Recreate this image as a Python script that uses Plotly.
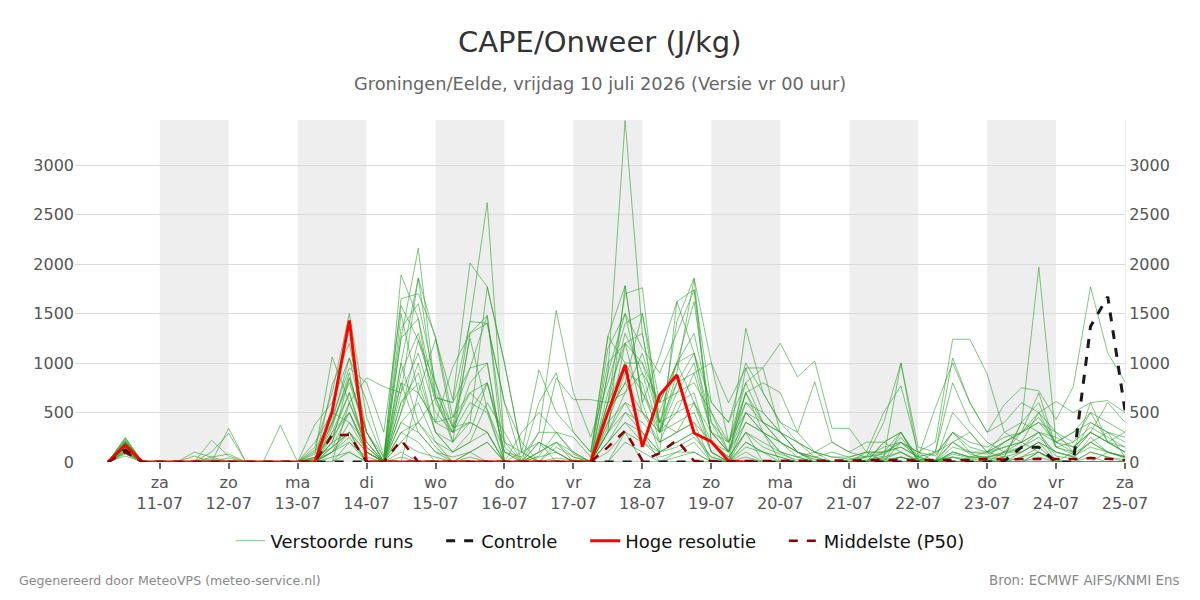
import pandas as pd
import plotly.graph_objects as go

# ---------------- data ----------------
times = pd.date_range("2026-07-10 06:00", periods=60, freq="6h")

tick_dates = pd.date_range("2026-07-11", "2026-07-25", freq="D")
tick_days = ["za", "zo", "ma", "di", "wo", "do", "vr", "za", "zo", "ma", "di", "wo", "do", "vr", "za"]

shade_starts = ["2026-07-11", "2026-07-13", "2026-07-15", "2026-07-17", "2026-07-19", "2026-07-21", "2026-07-23"]

# perturbed members (6-hourly, 10-07 06:00 .. 25-07 00:00)
m01 = [0,250,0, 0,0,0,0,0,0,0,0, 0,150,700,1500,450,30,1250,2160, 700,350,1420,2620,150,0,60,300,80, 0,350,1200,500,300,900,1850,200,50, 300,150,80,20,0,10, 0,20,60,250,30,20,200,80, 40,100,150,300,60,30,250,100,40]
m02 = [0,200,0, 0,0,0,220,60,0,0,0, 0,80,1060,600,850,760,700,1860, 1240,630,2010,1770,1000,100,0,40,20, 0,900,3450,1300,400,1000,600,200,100, 500,300,200,100,30,0, 0,10,40,1000,50,10,500,300, 100,50,400,1970,200,100,300,200,100]
m03 = [0,180,0, 0,0,0,0,340,0,0,370, 0,0,780,1200,300,0,1890,1450, 400,960,1300,1480,200,100,930,500,300, 100,1270,1780,600,1070,1620,1100,300,100, 1350,700,400,200,50,0, 0,0,100,300,20,0,100,50, 50,200,300,700,150,100,600,200,100]
m04 = [0,150,0, 0,0,0,100,290,0,0,0, 0,380,600,1050,620,60,1650,1700, 1270,450,950,1000,0,0,100,850,630, 630,600,1700,1760,300,1420,1860,1000,600, 950,500,300,100,20,0, 20,50,80,200,30,20,50,30, 30,50,400,600,150,80,200,300,50]
m05 = [0,220,0, 0,0,0,0,0,0,0,0, 0,120,450,950,800,300,1580,1230, 650,600,1420,1400,600,200,0,150,50, 0,1150,1500,1150,900,1300,1740,600,400, 800,950,1200,860,1020,340, 340,100,500,770,100,200,1240,1240, 890,300,200,100,20,0,100,50,20]
m06 = [0,120,0, 0,0,0,50,80,0,0,0, 0,40,380,850,300,50,1350,1600, 800,350,700,800,100,50,300,1530,700, 250,800,1400,1500,600,1000,1620,400,200, 700,800,700,300,810,200, 100,50,400,1000,150,100,1050,600, 300,580,750,720,430,760,1770,1100,810]
m07 = [0,100,0, 0,0,0,0,40,0,0,0, 0,0,300,700,150,0,1500,700, 400,300,1250,530,0,0,600,900,300, 100,1000,1200,1000,400,800,900,1000,200, 500,300,0,0,0,0, 0,0,0,50,0,0,0,20, 20,0,50,150,0,0,50,0,0]
m08 = [0,230,0, 0,0,0,0,0,0,0,0, 0,0,200,600,150,0,1000,400, 650,200,400,300,0,0,0,0,0, 0,600,1000,700,300,500,600,100,0, 200,100,50,0,0,0, 0,0,20,50,0,0,0,0, 0,0,100,200,0,0,100,50,0]
m09 = [0,160,0, 0,0,0,0,0,0,0,0, 0,200,500,400,100,0,800,300, 100,0,50,0,0,0,0,0,0, 0,500,800,500,200,300,400,0,0, 100,0,0,0,0,0, 0,0,0,0,0,0,0,0, 0,0,0,50,0,0,0,0,0]
m10 = [0,140,0, 0,0,0,30,0,0,0,0, 0,50,250,500,100,0,500,1000, 300,100,300,800,200,0,200,100,0, 0,300,600,300,100,200,300,50,0, 300,0,0,0,0,0, 0,0,0,300,0,0,300,100, 0,100,200,500,300,100,300,600,400]
m11 = [0,90,0, 0,0,0,0,0,0,0,0, 0,0,150,300,0,0,300,200, 0,0,100,0,0,0,0,0,0, 0,200,500,300,0,100,200,0,0, 0,0,0,0,0,0, 0,0,0,0,0,0,0,0, 0,0,0,0,0,0,0,0,0]
m12 = [0,200,0, 0,0,0,0,0,0,0,0, 0,20,100,200,50,0,200,100, 50,0,0,0,0,0,0,0,0, 0,100,300,200,50,100,100,0,0, 50,0,0,0,0,0, 0,0,0,0,0,0,0,0, 0,0,0,100,0,0,0,0,0]
m13 = [0,170,0, 0,0,0,0,0,0,0,0, 0,0,100,300,0,0,0,700, 1240,350,400,300,0,300,500,300,250, 50,1270,1000,1000,600,1000,1100,600,400, 1000,700,400,300,100,200, 100,200,200,300,50,550,1000,600, 300,400,600,500,610,500,600,620,500]
m14 = [0,130,0, 0,0,0,0,0,0,0,0, 0,0,200,850,300,0,500,1230, 800,200,1300,1400,600,0,300,300,100, 0,900,1500,700,400,500,900,300,100, 400,300,200,100,50,0, 0,0,200,300,0,100,800,400, 200,100,300,400,200,300,500,200,300]
m15 = [0,80,0, 0,0,0,0,0,0,0,0, 0,0,50,100,0,0,50,0, 0,0,0,0,0,0,0,0,0, 0,0,200,100,0,50,100,0,0, 0,0,0,0,0,0, 0,0,0,0,0,0,0,0, 0,0,0,0,0,0,0,0,0]
m16 = [0,210,0, 0,0,0,0,0,0,0,0, 0,100,400,1050,300,0,1250,1450, 650,600,950,1480,0,0,0,0,0, 0,700,1200,1300,300,800,1100,400,100, 700,300,100,0,0,0, 0,0,0,50,0,0,50,0, 0,0,50,100,0,0,0,0,0]
m17 = [0,190,0, 0,0,0,0,0,0,0,0, 0,30,300,500,100,0,800,700, 400,450,700,530,100,0,100,200,100, 0,500,800,1500,400,300,600,300,200, 800,400,200,100,0,0, 0,100,0,200,100,0,200,300, 100,200,300,400,300,200,500,400,300]
m18 = [0,60,0, 0,0,0,0,0,0,0,0, 0,0,0,200,0,0,0,0, 0,0,0,0,0,0,0,0,0, 0,0,0,0,0,0,0,0,0, 0,0,0,0,0,0, 0,0,0,0,0,0,0,0, 0,0,0,0,0,0,0,0,0]
m19 = [0,110,0, 0,0,0,0,0,0,0,0, 0,0,100,400,200,0,1000,1860, 650,300,400,1770,1000,100,0,0,0, 0,300,1780,600,100,1620,1740,200,0, 950,950,300,100,0,0, 0,0,0,0,0,0,0,0, 0,0,0,100,0,0,0,100,50]
m20 = [0,170,0, 0,0,0,0,0,0,0,0, 0,0,200,300,100,0,300,400, 200,100,200,300,0,100,200,0,0, 0,400,600,500,300,400,500,100,0, 500,400,300,100,50,100, 50,100,100,150,50,100,200,100, 100,150,200,300,200,150,300,200,150]
m21 = [0,100,0, 0,0,0,0,0,0,0,0, 0,0,0,100,0,0,100,0, 0,0,0,0,0,0,0,0,0, 0,0,300,0,0,0,0,0,0, 0,0,0,0,0,0, 0,0,200,100,0,0,100,50, 100,300,400,300,0,100,400,300,200]
m22 = [0,240,0, 0,0,0,0,0,0,0,0, 0,0,400,800,300,0,600,800, 300,100,200,600,300,0,0,200,0, 0,600,700,900,600,700,800,500,200, 600,400,300,200,100,0, 0,0,0,0,0,0,0,0, 0,0,0,0,0,0,0,0,0]
m23 = [0,150,0, 0,0,0,0,0,0,0,0, 0,0,0,600,200,0,400,600, 200,0,0,0,0,0,0,0,0, 0,200,400,200,100,200,300,0,0, 200,100,0,0,0,0, 0,0,50,100,0,0,100,50, 50,100,100,200,100,50,200,100,50]
m24 = [0,200,0, 0,0,0,0,0,0,0,0, 0,50,150,300,100,0,400,300, 100,50,100,200,0,0,50,100,0, 0,300,500,400,200,300,400,200,50, 300,200,100,50,0,0, 0,0,0,50,0,0,50,0, 0,50,100,200,100,50,200,100,50]
m25 = [0,180,0, 0,0,100,50,0,0,0,0, 0,0,250,700,100,0,600,900, 300,200,500,800,100,0,200,100,0, 0,400,900,800,200,600,700,100,0, 400,300,100,50,100,50, 30,60,150,200,100,60,300,200, 150,250,300,450,200,300,400,300,250]
m26 = [0,210,0, 0,0,60,0,0,0,0,0, 0,0,350,900,200,0,700,1100, 500,300,800,1000,0,0,100,200,50, 0,600,1300,900,300,700,1000,300,100, 600,500,300,200,100,50, 50,100,100,200,60,80,300,150, 100,200,300,500,150,200,350,250,150]
m27 = [0,130,0, 0,0,0,0,0,0,0,0, 0,0,100,250,0,0,200,400, 150,0,100,200,0,0,0,0,0, 0,200,400,300,100,150,250,50,0, 150,100,50,0,0,0, 0,0,30,100,20,0,80,40, 50,80,150,250,100,60,150,100,60]
m28 = [0,170,0, 0,0,0,0,0,0,0,0, 0,0,150,500,150,0,900,1300, 600,300,600,500,0,0,0,0,0, 0,300,700,1100,500,1000,1300,500,100, 700,400,200,50,0,0, 0,50,100,150,50,0,150,100, 80,150,200,300,250,150,300,200,100]

members = [m01, m02, m03, m04, m05, m06, m07, m08, m09, m10, m11, m12, m13, m14,
           m15, m16, m17, m18, m19, m20, m21, m22, m23, m24, m25, m26, m27, m28]

controle = [0,120,0, 0,0,0,0,0,0,0,0, 0,0,0,0,0,0,0,0, 0,0,0,0,0,0,0,0,0, 0,0,0,0,0,0,0,0,0, 0,0,0,0,0,0, 0,0,0,0,0,0,0,0, 0,10,150,150,0,0,1370,1670,520]
hres = [0,170,0, 0,0,0,0,0,0,0,0, 0,0,510,1430,0,0,0,0, 0,0,0,0,0,0,0,0,0, 0,500,980,155,677,879,293,205,10, 0]
p50 = [0,100,0, 0,0,0,0,0,0,0,0, 0,0,273,273,0,0,222,0, 0,0,0,0,0,0,0,0,0, 0,150,316,15,90,222,10,10,5, 10,10,15,10,10,10, 15,20,20,25,20,20,25,20, 30,25,30,30,25,30,40,30,20]

names = ["Verstoorde runs", "Controle", "Hoge resolutie", "Middelste (P50)"]

# ---------------- figure ----------------
FONT = "DejaVu Sans"
PAD = "\u00a0" * 4
fig = go.Figure()

for k, m in enumerate(members):
    fig.add_trace(go.Scatter(
        x=times, y=m, mode="lines", name=names[0] + PAD,
        legendgroup="ens", showlegend=(k == 0),
        line=dict(color="rgba(44,160,44,0.6)", width=1),
        hoverinfo="skip"))

fig.add_trace(go.Scatter(x=times, y=controle, mode="lines", name=names[1] + PAD,
                         line=dict(color="#1a1a1a", width=3, dash="dash")))
fig.add_trace(go.Scatter(x=times[:len(hres)], y=hres, mode="lines", name=names[2] + PAD,
                         line=dict(color="#ff0000", width=3)))
fig.add_trace(go.Scatter(x=times, y=p50, mode="lines", name=names[3],
                         line=dict(color="#8b0000", width=2.5, dash="dash")))
# invisible trace to activate the right-hand axis
fig.add_trace(go.Scatter(x=[times[0]], y=[0], yaxis="y2", mode="markers",
                         marker=dict(opacity=0), showlegend=False, hoverinfo="skip"))

shapes = []
for s in shade_starts:
    e = pd.Timestamp(s) + pd.Timedelta(days=1)
    shapes.append(dict(type="rect", xref="x", yref="paper", x0=s, x1=e, y0=0, y1=1,
                       fillcolor="#eeeeee", line=dict(width=0), layer="below"))

ticktext = [f"{d}<br>{t.strftime('%d-%m')}" for d, t in zip(tick_days, tick_dates)]

ann = [
    dict(text="CAPE/Onweer (J/kg)", x=600, y=42, size=29, color="#333333", xa="center"),
    dict(text="Groningen/Eelde, vrijdag 10 juli 2026 (Versie vr 00 uur)", x=600, y=84, size=17.8, color="#666666", xa="center"),
    dict(text="Gegenereerd door MeteoVPS (meteo-service.nl)", x=17, y=580, size=12.6, color="#888888", xa="left"),
    dict(text="Bron: ECMWF AIFS/KNMI Ens", x=1182, y=580, size=13.4, color="#888888", xa="right"),
]
annotations = []
for a in ann:
    yp = (462 - a["y"]) / 342
    xp = (a["x"] - 75) / 1050
    annotations.append(dict(text=a["text"], xref="paper", yref="paper", x=xp, y=yp,
                            xanchor=a["xa"], yanchor="middle", showarrow=False,
                            font=dict(family=FONT, size=a["size"], color=a["color"])))

yr = [0, 3455]
yticks = [0, 500, 1000, 1500, 2000, 2500, 3000]
fig.update_layout(
    width=1200, height=600,
    margin=dict(l=75, r=75, t=120, b=138),
    plot_bgcolor="white", paper_bgcolor="white",
    font=dict(family=FONT, color="#555555", size=16),
    shapes=shapes,
    annotations=annotations,
    showlegend=True,
    legend=dict(orientation="h", x=0.5, xanchor="center", y=-0.231, yanchor="middle",
                font=dict(size=18, color="#111111")),
    xaxis=dict(range=[pd.Timestamp("2026-07-09 18:30"), pd.Timestamp("2026-07-25 00:00")],
               tickvals=tick_dates, ticktext=ticktext, showgrid=False,
               ticks="outside", ticklen=6, tickcolor="#666666", tickwidth=1.5,
               tickfont=dict(size=16, color="#555555"), zeroline=False, showline=False),
    yaxis=dict(range=yr, tickvals=yticks,
               showgrid=True, gridcolor="#d9d9d9", gridwidth=1, zeroline=False,
               tickfont=dict(size=16, color="#555555"), ticks="", showline=False),
    yaxis2=dict(range=yr, overlaying="y", side="right", tickvals=yticks,
                showgrid=False, zeroline=False, showline=True, linecolor="#eeeeee",
                tickfont=dict(size=16, color="#555555")),
)

fig.write_html("out.html")
